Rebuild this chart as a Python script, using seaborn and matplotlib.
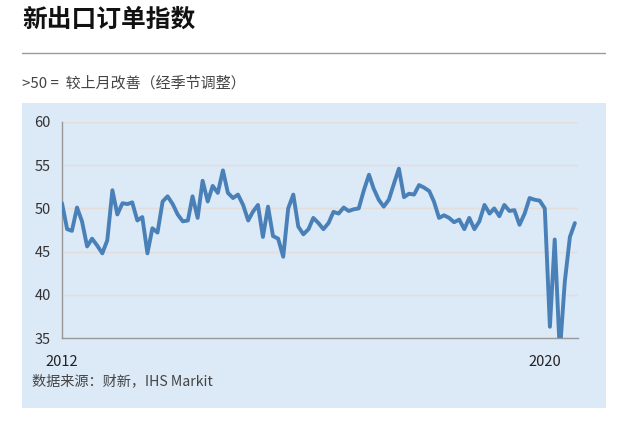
import pandas as pd
import matplotlib
matplotlib.use("Agg")
import matplotlib.pyplot as plt
from matplotlib.patches import Rectangle
from matplotlib.lines import Line2D
import seaborn as sns

# Caixin China manufacturing PMI, new export orders (monthly, Jan 2012 - Jul 2020)
values_2012 = [50.6, 47.6, 47.4, 50.1, 48.5, 45.6, 46.5, 45.7, 44.8, 46.3, 52.1, 49.3]
values_2013 = [50.6, 50.5, 50.7, 48.6, 49.0, 44.8, 47.7, 47.2, 50.8, 51.4, 50.5, 49.3]
values_2014 = [48.5, 48.6, 51.4, 48.9, 53.2, 50.8, 52.6, 51.8, 54.4, 51.8, 51.2, 51.6]
values_2015 = [50.4, 48.6, 49.6, 50.4, 46.7, 50.2, 46.8, 46.5, 44.4, 50.0, 51.6, 47.9]
values_2016 = [47.0, 47.6, 48.9, 48.3, 47.6, 48.3, 49.6, 49.4, 50.1, 49.7, 49.9, 50.0]
values_2017 = [52.1, 53.9, 52.3, 51.0, 50.2, 51.0, 52.8, 54.6, 51.3, 51.7, 51.6, 52.7]
values_2018 = [52.4, 52.0, 50.8, 48.9, 49.2, 48.9, 48.4, 48.7, 47.6, 48.9, 47.6, 48.5]
values_2019 = [50.4, 49.4, 50.0, 49.1, 50.4, 49.7, 49.8, 48.1, 49.4, 51.2, 51.0, 50.9]
values_2020 = [50.0, 36.3, 46.4, 33.3, 41.5, 46.7, 48.3]

values = (values_2012 + values_2013 + values_2014 + values_2015 + values_2016
          + values_2017 + values_2018 + values_2019 + values_2020)
months = pd.date_range("2012-01-01", periods=len(values), freq="MS")
df = pd.DataFrame({"month": months, "index": values})

title = "新出口订单指数"
subtitle = ">50 =  较上月改善（经季节调整）"
source = "数据来源：财新，IHS Markit"
y_ticks = [35, 40, 45, 50, 55, 60]
x_ticks = ["2012-01-01", "2020-01-01"]
x_labels = ["2012", "2020"]

sns.set_style("white")
plt.rcParams["font.family"] = ["Noto Sans CJK SC", "DejaVu Sans"]

W, H = 627, 421
fig = plt.figure(figsize=(W / 100, H / 100), dpi=100)

# light blue panel behind the chart
fig.add_artist(Rectangle((22 / W, 1 - 408 / H), (606 - 22) / W, (408 - 103) / H,
                         transform=fig.transFigure, facecolor="#dce9f6",
                         edgecolor="none", zorder=0))
# separator under the title
fig.add_artist(Line2D([22 / W, 605 / W], [1 - 53 / H, 1 - 53 / H],
                      transform=fig.transFigure, color="#9a9a9a", lw=1.0))

fig.text(22 / W, 1 - 20 / H, title, fontsize=17.8, fontweight="bold",
         color="#111111", va="center", ha="left")
fig.text(22 / W, 1 - 83 / H, subtitle, fontsize=10.8, color="#444444",
         va="center", ha="left")
fig.text(32 / W, 1 - 381 / H, source, fontsize=10.2, color="#444444",
         va="center", ha="left")

ax = fig.add_axes([62 / W, 1 - 338 / H, (578 - 62) / W, (338 - 122) / H])
ax.set_facecolor("none")
sns.lineplot(data=df, x="month", y="index", ax=ax, color="#4a80b8",
             linewidth=2.8, zorder=3)

ax.set_ylim(35, 60)
ax.set_xlim(pd.Timestamp("2012-01-01"), pd.Timestamp("2020-07-20"))
ax.set_yticks(y_ticks)
ax.set_xticks([pd.Timestamp(t) for t in x_ticks])
ax.set_xticklabels(x_labels)
ax.set_xlabel("")
ax.set_ylabel("")

ax.grid(axis="y", color="#e3ded9", linewidth=1.0, zorder=1)
for side in ["top", "right"]:
    ax.spines[side].set_visible(False)
for side in ["left", "bottom"]:
    ax.spines[side].set_color("#999999")
    ax.spines[side].set_linewidth(1.0)

ax.tick_params(axis="y", length=4, width=1, color="#999999", labelsize=10.5,
               labelcolor="#333333", pad=4)
ax.tick_params(axis="x", length=4, width=1, color="#999999", labelsize=10.5,
               labelcolor="#222222", pad=8)
for lbl in ax.get_xticklabels():
    lbl.set_fontweight("medium")

fig.savefig("out.png", dpi=100)
